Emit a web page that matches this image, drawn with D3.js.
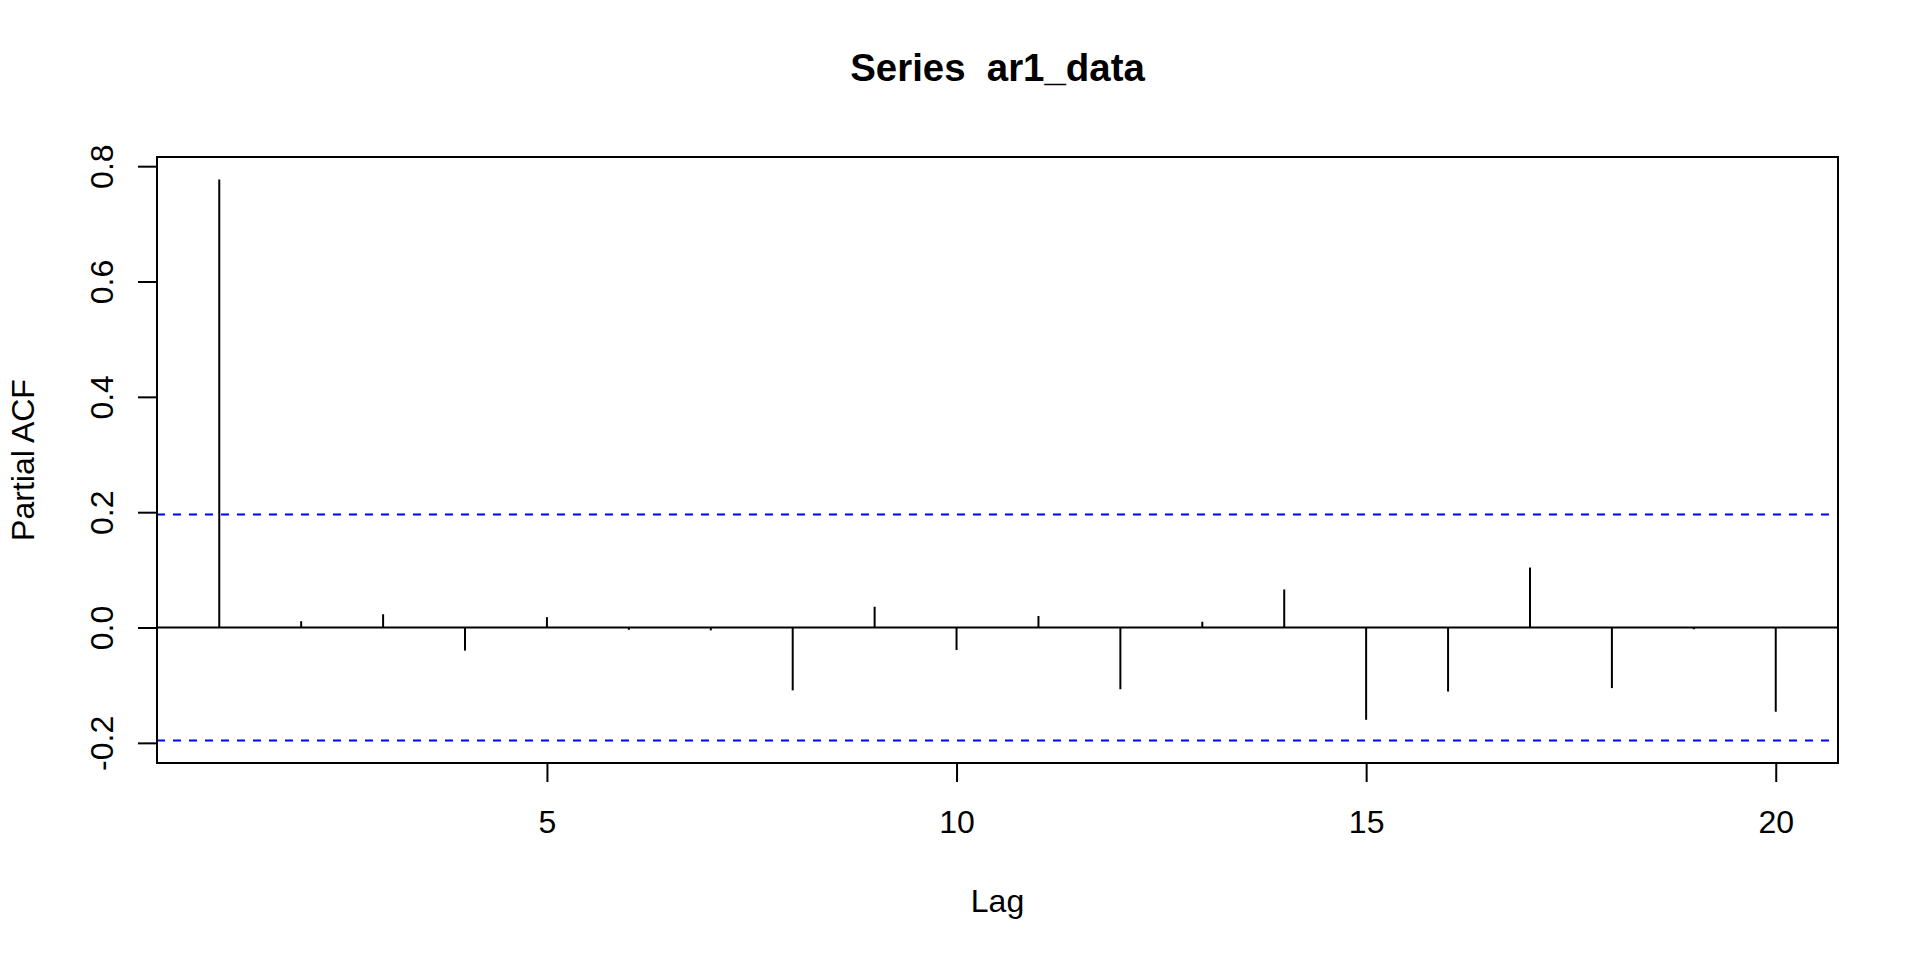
<!DOCTYPE html>
<html>
<head>
<meta charset="utf-8">
<script src="https://cdn.jsdelivr.net/npm/d3@7"></script>
<style>
  html, body { margin: 0; padding: 0; background: #fff; }
  svg { display: block; }
  text { font-family: "Liberation Sans", Arial, sans-serif; fill: #000; }
</style>
</head>
<body>
<svg width="1920" height="960"></svg>
<script>
// dati (PACF di ar1_data, n = 100)
var lags = [1, 2, 3, 4, 5, 6, 7, 8, 9, 10, 11, 12, 13, 14, 15, 16, 17, 18, 19, 20];
var pacf = [0.777, 0.011, 0.023, -0.040, 0.018, -0.004, -0.005, -0.109, 0.036, -0.039,
            0.020, -0.107, 0.010, 0.066, -0.160, -0.111, 0.104, -0.105, -0.003, -0.146];
var clim = 0.196;               // 1.96 / sqrt(n)
var xTicks = [5, 10, 15, 20];
var yTicks = [-0.2, 0.0, 0.2, 0.4, 0.6, 0.8];
var title = "Series  ar1_data",
    xLabel = "Lag",
    yLabel = "Partial ACF";

// attenzione: "top" e' gia' window.top, quindi nomi diversi
var svg = d3.select("svg"),
    pLeft = 157, pRight = 1838, pTop = 157, pBottom = 763;

// come in R: range dei dati esteso del 4% per lato
function pad(lo, hi) { var r = hi - lo; return [lo - 0.04 * r, hi + 0.04 * r]; }

var x = d3.scaleLinear()
    .domain(pad(d3.min(lags), d3.max(lags)))
    .range([pLeft, pRight]);
var y = d3.scaleLinear()
    .domain(pad(Math.min(-clim, d3.min(pacf)), Math.max(clim, d3.max(pacf))))
    .range([pBottom, pTop]);

// assi
var gx = svg.append("g")
    .attr("transform", "translate(0," + pBottom + ")")
    .call(d3.axisBottom(x).tickValues(xTicks).tickSize(19).tickPadding(28).tickFormat(d3.format("d")));
gx.select(".domain").remove();
gx.selectAll("line").attr("stroke", "#000").attr("stroke-width", 2);
gx.selectAll("text").attr("font-size", 32).attr("font-family", null);

var gy = svg.append("g")
    .attr("transform", "translate(" + pLeft + ",0)")
    .call(d3.axisLeft(y).tickValues(yTicks).tickSize(19).tickFormat(function(d) { return d.toFixed(1); }));
gy.select(".domain").remove();
gy.selectAll("line").attr("stroke", "#000").attr("stroke-width", 2);
gy.selectAll("text")
    .attr("font-size", 32).attr("font-family", null)
    .attr("text-anchor", "middle")
    .attr("transform", "rotate(-90)")
    .attr("x", 0).attr("y", -44.3).attr("dy", null);

// linee di confidenza e zero
svg.selectAll(".clim").data([clim, -clim]).enter().append("line")
    .attr("class", "clim")
    .attr("x1", pLeft).attr("x2", pRight)
    .attr("y1", function(d) { return y(d); }).attr("y2", function(d) { return y(d); })
    .attr("stroke", "#0000ff").attr("stroke-width", 2).attr("stroke-dasharray", "8,8");

svg.append("line")
    .attr("x1", pLeft).attr("x2", pRight)
    .attr("y1", y(0)).attr("y2", y(0))
    .attr("stroke", "#000").attr("stroke-width", 2);

// barre verticali (type = "h")
svg.selectAll(".spike").data(lags).enter().append("line")
    .attr("class", "spike")
    .attr("x1", function(d) { return x(d); }).attr("x2", function(d) { return x(d); })
    .attr("y1", y(0))
    .attr("y2", function(d, i) { return y(pacf[i]); })
    .attr("stroke", "#000").attr("stroke-width", 2);

// riquadro
svg.append("rect")
    .attr("x", pLeft).attr("y", pTop)
    .attr("width", pRight - pLeft).attr("height", pBottom - pTop)
    .attr("fill", "none").attr("stroke", "#000").attr("stroke-width", 2);

// titoli
svg.append("text")
    .attr("x", (pLeft + pRight) / 2).attr("y", 80.5)
    .attr("text-anchor", "middle")
    .attr("font-size", 38.4).attr("font-weight", "bold")
    .style("white-space", "pre")
    .text(title);

svg.append("text")
    .attr("x", (pLeft + pRight) / 2).attr("y", 911.5)
    .attr("text-anchor", "middle")
    .attr("font-size", 32)
    .text(xLabel);

svg.append("text")
    .attr("transform", "translate(33.5," + (pTop + pBottom) / 2 + ") rotate(-90)")
    .attr("text-anchor", "middle")
    .attr("font-size", 32)
    .text(yLabel);
</script>
</body>
</html>
